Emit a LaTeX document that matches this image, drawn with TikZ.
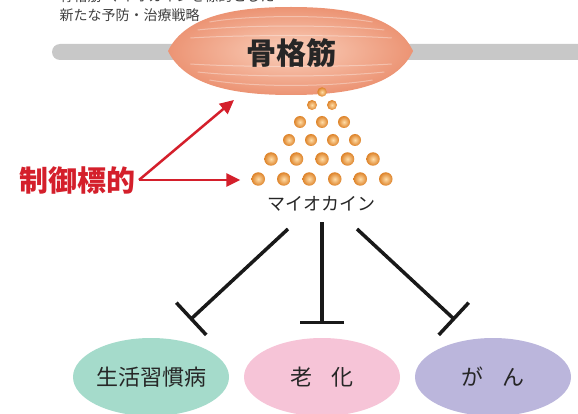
\documentclass[tikz,border=0pt]{standalone}
\usepackage{fontspec}
\setmainfont{Noto Sans CJK JP}
\usetikzlibrary{arrows.meta,shapes.geometric}
\definecolor{muscle}{HTML}{EC9474}
\definecolor{musclelight}{HTML}{FAD0BC}
\definecolor{bargray}{HTML}{C8C8C8}
\definecolor{dotorange}{HTML}{DD8228}
\definecolor{dotlight}{HTML}{FFDDA8}
\definecolor{targetred}{HTML}{D41F2B}
\definecolor{mint}{HTML}{A5DBCB}
\definecolor{agepink}{HTML}{F6C4D7}
\definecolor{lavender}{HTML}{BBB6DC}

\begin{document}
\begin{tikzpicture}
[x=1pt,y=-1pt]
\tikzset{
	dot/.style = {circle, inner sep = 0, minimum size = #1, shade, inner color = dotlight, outer color = dotorange},
	disease/.style = {ellipse, inner sep = 0, minimum width = 156pt, minimum height = 78pt, text = black!85, font = \fontsize{22}{26}\selectfont},
	inhibit/.style = {line width = 3.5pt, black!90, -{Bar[width = 44pt]}},
	target/.style = {targetred, line width = 2.5pt, -{Triangle[length = 14pt, width = 13pt]}}
}
\useasboundingbox (0,0) rectangle (578,414);
\clip (0,0) rectangle (578,414);

\node(title1) [anchor = west, font = \fontsize{14}{16}\selectfont, text = black!75] at (56,-4) {骨格筋-マイオカインを標的とした};
\node(title2) [anchor = west, font = \fontsize{14}{16}\selectfont, text = black!75] at (56,15) {新たな予防・治療戦略};

\fill [bargray, rounded corners = 8pt] (52,44) rectangle (600,60);

\path [shade, inner color = musclelight, outer color = muscle]
	(168,51) .. controls (186,14) and (240,7) .. (291,7)
	.. controls (342,7) and (396,14) .. (413,51)
	.. controls (396,88) and (342,95) .. (291,95)
	.. controls (240,95) and (186,88) .. (168,51) -- cycle;
\foreach \yy in {22,30,38,64,72,80}{
	\pgfmathsetmacro{\ww}{105*sqrt(1-((\yy-51)/46)^2)}
	\pgfmathsetmacro{\kk}{(\yy-51)*0.25}
	\draw [white, opacity = .35, line width = 1pt]
		(291-\ww,\yy) .. controls (291-\ww/2,\yy+\kk) and (291+\ww/2,\yy+\kk) .. (291+\ww,\yy);
}
\node(muscle) [font = \bfseries\fontsize{30}{34}\selectfont, text = black!85] at (291,53) {骨格筋};

\foreach \r/\n/\yy/\sp/\sz in {1/1/92/0/9.5, 2/2/105/20/10, 3/3/122/22/12, 4/4/140/22/12, 5/5/159/25.5/13.5, 6/6/179/25.5/13.5}{
	\foreach \i in {1,...,\n}{
		\node(d-\r-\i) [dot = \sz pt] at ({322+(\i-(\n+1)/2)*\sp},\yy) {};
	}
}

\node(myo) [font = \fontsize{18}{20}\selectfont, text = black!85] at (321,204) {マイオカイン};

\coordinate (s1) at (288,229);
\coordinate (e1) at (190,320);
\coordinate (s2) at (322,222);
\coordinate (e2) at (322,324);
\coordinate (s3) at (357,229);
\coordinate (e3) at (455,320);
\draw [inhibit] (s1) -- (e1);
\draw [inhibit] (s2) -- (e2);
\draw [inhibit] (s3) -- (e3);

\node(target) [anchor = east, inner sep = 0, font = \bfseries\fontsize{29}{32}\selectfont, text = targetred] at (136,180) {制御標的};
\coordinate (up) at (234,100);
\draw [target] ([xshift = 3pt]target.east) -- (up);
\draw [target] ([xshift = 3pt]target.east) -- ([xshift = 3pt]target.east -| d-6-1.west) [shorten > = 14pt];

\node(lifestyle) [disease, fill = mint] at (151,377) {生活習慣病};
\node(aging) [disease, fill = agepink] at (322,377) {老\hspace{0.9em}化};
\node(cancer) [disease, fill = lavender] at (493,377) {が\hspace{0.9em}ん};

\end{tikzpicture}
\end{document}
